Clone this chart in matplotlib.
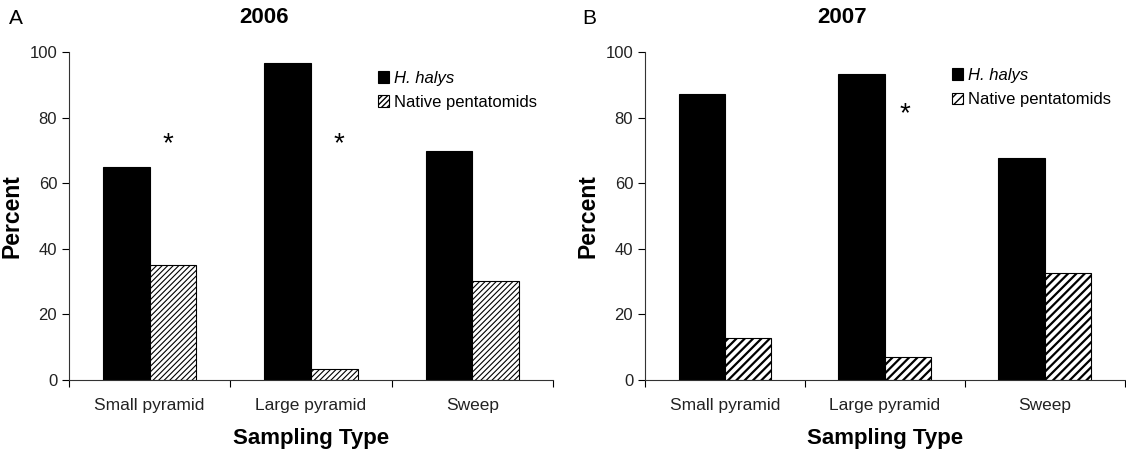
import numpy as np
import matplotlib.pyplot as plt

plt.rcParams['font.family'] = ['Liberation Sans', 'DejaVu Sans']

categorias = ['Small pyramid', 'Large pyramid', 'Sweep']
halys_2006 = [65.0, 96.6, 69.7]
nativas_2006 = [35.0, 3.4, 30.2]
halys_2007 = [87.3, 93.2, 67.7]
nativas_2007 = [12.8, 6.9, 32.5]
# asteriscos: (categoria, altura)
ast_2006 = [(0, 72.0), (1, 72.0)]
ast_2007 = [(1, 81.0)]
ast_dx_2006 = [0.11, 0.17]
ast_dx_2007 = [0.125]

fig = plt.figure(figsize=(11.26, 4.54), dpi=100)
ax_a = fig.add_axes([0.0613, 0.163, 0.4298, 0.7225])
ax_b = fig.add_axes([0.5728, 0.163, 0.426, 0.7225])

w = 0.29
x = np.arange(len(categorias))


def panel(ax, halys, nativas, asts, dxs, titulo, hatch, hlw, leg_pos, tit_x):
    ax.bar(x - w/2, halys, w, color='black', edgecolor='black', linewidth=0.8,
           label='H. halys')
    b2 = ax.bar(x + w/2, nativas, w, color='white', edgecolor='black', linewidth=0.8,
                hatch=hatch, label='Native pentatomids')
    for p in b2:
        if hasattr(p, 'set_hatch_linewidth'):
            p.set_hatch_linewidth(hlw)
    for (c, h), dx in zip(asts, dxs):
        ax.text(c + dx, h, '*', ha='center', va='center', fontsize=20)
    ax.set_xlim(-0.5, 2.5)
    ax.set_ylim(0, 100)
    ax.set_yticks([0, 20, 40, 60, 80, 100])
    ax.set_xticks([-0.5, 0.5, 1.5, 2.5])
    ax.set_xticklabels([])
    ax.set_xticks(x, minor=True)
    ax.set_xticklabels(categorias, minor=True)
    ax.tick_params(axis='x', which='minor', length=0, pad=13, labelsize=12.5, labelcolor='#222222')
    ax.tick_params(axis='x', which='major', length=5, direction='out')
    ax.tick_params(axis='y', length=5, labelsize=12, labelcolor='#222222')
    for s in ['top', 'right']:
        ax.spines[s].set_visible(False)
    ax.spines['left'].set_color('#333333')
    ax.spines['bottom'].set_color('#333333')
    ax.set_ylabel('Percent', fontsize=16.5, fontweight='bold', labelpad=4)
    ax.set_xlabel('Sampling Type', fontsize=16, fontweight='bold', labelpad=11)
    fig.text(tit_x, 0.962, titulo, fontsize=16, fontweight='bold', ha='center', va='center')
    leg = ax.legend(loc='upper left', bbox_to_anchor=leg_pos, bbox_transform=fig.transFigure,
                    frameon=False, fontsize=12, handlelength=0.7, handleheight=0.7,
                    handletextpad=0.3, labelspacing=0.55)
    leg.get_texts()[0].set_style('italic')
    return ax


panel(ax_a, halys_2006, nativas_2006, ast_2006, ast_dx_2006, '2006', '//////', 0.8,
      (0.322, 0.877), 264 / 1126)
panel(ax_b, halys_2007, nativas_2007, ast_2007, ast_dx_2007, '2007', '////', 1.6,
      (0.832, 0.883), 842 / 1126)

fig.text(0.008, 0.96, 'A', fontsize=15, va='center')
fig.text(0.517, 0.96, 'B', fontsize=15, va='center')

fig.savefig('out.png', dpi=100)
